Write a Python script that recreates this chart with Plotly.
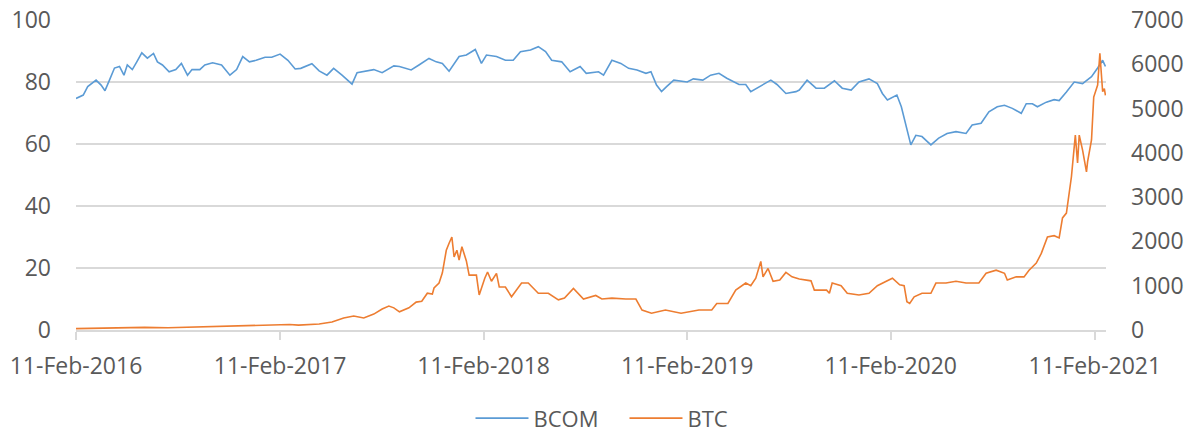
import plotly.graph_objects as go

bcom_dates = [
    "2016-02-11","2016-02-24","2016-03-03","2016-03-18","2016-03-27","2016-04-03","2016-04-11","2016-04-20",
    "2016-04-29","2016-05-07","2016-05-13","2016-05-22","2016-05-30","2016-06-08","2016-06-18","2016-06-29",
    "2016-07-06","2016-07-15","2016-07-27","2016-08-08","2016-08-18","2016-08-29","2016-09-06","2016-09-20",
    "2016-09-29","2016-10-13","2016-10-29","2016-11-13","2016-11-25","2016-12-06","2016-12-18","2016-12-30",
    "2017-01-15","2017-01-27","2017-02-11","2017-02-25","2017-03-10","2017-03-20","2017-04-09","2017-04-22",
    "2017-05-06","2017-05-18","2017-06-02","2017-06-20","2017-06-29","2017-07-15","2017-07-29","2017-08-13",
    "2017-09-03","2017-09-13","2017-10-04","2017-10-18","2017-11-05","2017-11-18","2017-11-29","2017-12-11",
    "2017-12-29","2018-01-11","2018-01-27","2018-02-07","2018-02-16","2018-03-06","2018-03-22","2018-04-05",
    "2018-04-18","2018-05-06","2018-05-20","2018-06-02","2018-06-13","2018-07-01","2018-07-16","2018-08-03",
    "2018-08-14","2018-09-05","2018-09-14","2018-09-29","2018-10-15","2018-10-29","2018-11-13","2018-11-29",
    "2018-12-08","2018-12-18","2018-12-27","2019-01-05","2019-01-18","2019-02-11","2019-02-22","2019-03-11",
    "2019-03-25","2019-04-09","2019-04-23","2019-05-15","2019-05-27","2019-06-05","2019-06-20","2019-07-11",
    "2019-07-22","2019-08-07","2019-08-25","2019-08-31","2019-09-14","2019-09-30","2019-10-15","2019-11-02",
    "2019-11-16","2019-12-02","2019-12-16","2020-01-03","2020-01-18","2020-01-27","2020-02-05","2020-02-22",
    "2020-03-01","2020-03-06","2020-03-18","2020-03-27","2020-04-07","2020-04-23","2020-05-07","2020-05-22",
    "2020-06-07","2020-06-25","2020-07-06","2020-07-22","2020-08-05","2020-08-20","2020-09-02","2020-09-16",
    "2020-10-02","2020-10-11","2020-10-22","2020-10-31","2020-11-16","2020-11-30","2020-12-09","2020-12-22",
    "2021-01-05","2021-01-20","2021-02-05","2021-02-16","2021-02-25","2021-03-02",
]
bcom_values = [
    74.7,75.8,78.5,80.6,79.0,77.2,80.6,84.5,
    85.0,82.2,85.5,84.0,86.5,89.4,87.7,89.2,
    86.5,85.5,83.3,84.0,86.0,82.2,84.0,84.0,
    85.5,86.2,85.5,82.2,84.0,88.2,86.5,87.0,
    88.0,88.0,89.0,87.0,84.2,84.4,85.9,83.6,
    82.2,84.4,82.2,79.3,83.0,83.5,84.0,83.0,
    85.2,85.0,83.9,85.5,87.6,86.5,86.0,83.5,
    88.2,88.7,90.5,86.0,88.7,88.2,87.0,87.0,
    89.8,90.3,91.4,89.8,87.0,86.5,83.3,85.0,
    82.8,83.3,82.2,87.0,86.0,84.4,83.9,82.8,
    83.3,79.0,76.9,78.5,80.6,80.0,81.0,80.6,
    82.2,82.8,81.2,79.2,79.2,76.9,78.5,80.6,
    79.2,76.3,76.9,77.4,80.6,78.0,78.0,80.4,
    78.0,77.4,80.0,81.0,79.5,76.3,74.2,75.8,
    72.0,68.3,59.7,62.8,62.4,59.7,61.9,63.4,
    64.0,63.4,66.1,66.7,70.4,72.0,72.5,71.5,
    69.9,73.0,73.0,72.0,73.5,74.3,74.0,76.8,
    80.0,79.5,81.7,84.5,87.0,85.0,
]

btc_dates = [
    "2016-02-11","2016-06-13","2016-07-25","2016-12-18","2016-12-31","2017-02-28","2017-03-16","2017-04-22",
    "2017-05-15","2017-06-05","2017-06-23","2017-07-11","2017-07-29","2017-08-13","2017-08-25","2017-09-03",
    "2017-09-13","2017-09-30","2017-10-13","2017-10-23","2017-11-02","2017-11-11","2017-11-14","2017-11-23",
    "2017-11-29","2017-12-06","2017-12-11","2017-12-16","2017-12-20","2017-12-25","2017-12-29","2018-01-03",
    "2018-01-11","2018-01-16","2018-01-29","2018-02-03","2018-02-13","2018-02-18","2018-02-25","2018-03-06",
    "2018-03-11","2018-03-22","2018-04-02","2018-04-20","2018-05-02","2018-05-20","2018-06-07","2018-06-25",
    "2018-07-06","2018-07-22","2018-08-09","2018-08-31","2018-09-11","2018-09-29","2018-10-24","2018-11-11",
    "2018-11-22","2018-12-09","2019-01-03","2019-01-31","2019-03-04","2019-03-27","2019-04-05","2019-04-25",
    "2019-05-09","2019-05-27","2019-06-05","2019-06-14","2019-06-23","2019-06-27","2019-07-06","2019-07-15",
    "2019-07-27","2019-08-07","2019-08-18","2019-08-31","2019-09-21","2019-09-27","2019-10-19","2019-10-24",
    "2019-10-29","2019-11-14","2019-11-25","2019-12-16","2020-01-03","2020-01-18","2020-02-03","2020-02-14",
    "2020-02-27","2020-03-06","2020-03-11","2020-03-16","2020-03-24","2020-04-07","2020-04-23","2020-05-02",
    "2020-05-20","2020-06-07","2020-06-25","2020-07-18","2020-07-31","2020-08-18","2020-09-02","2020-09-07",
    "2020-09-23","2020-10-07","2020-10-16","2020-10-29","2020-11-07","2020-11-18","2020-11-30","2020-12-09",
    "2020-12-15","2020-12-22","2020-12-31","2021-01-07","2021-01-11","2021-01-14","2021-01-20","2021-01-27",
    "2021-01-29","2021-02-05","2021-02-09","2021-02-16","2021-02-20","2021-02-25","2021-02-28","2021-03-02",
]
btc_values = [
    30,60,50,90,110,125,110,135,
    180,270,315,270,360,475,540,500,
    410,500,630,650,830,810,950,1060,
    1290,1800,1960,2100,1650,1800,1580,1880,
    1560,1240,1240,790,1170,1310,1100,1280,
    970,970,750,1060,1060,830,830,680,
    720,940,700,780,700,720,700,700,
    450,380,450,380,450,450,600,600,
    900,1060,1000,1170,1550,1200,1390,1100,
    1130,1300,1200,1150,1110,900,900,830,
    1060,1000,830,790,830,1000,1100,1170,
    1020,1000,640,600,750,830,830,1060,
    1060,1100,1060,1060,1280,1350,1280,1130,
    1200,1200,1350,1510,1730,2100,2130,2080,
    2530,2640,3460,4400,3770,4400,4060,3570,
    3800,4290,5260,5530,6250,5380,5450,5300,
]

tick_dates = ["2016-02-11","2017-02-11","2018-02-11","2019-02-11","2020-02-11","2021-02-11"]
tick_labels = ["11-Feb-2016","11-Feb-2017","11-Feb-2018","11-Feb-2019","11-Feb-2020","11-Feb-2021"]

FONT = "Open Sans"
GRAY = "#595959"
GRID = "#D9D9D9"
FS = 23

fig = go.Figure()
fig.add_trace(go.Scatter(x=bcom_dates, y=bcom_values, name="BCOM", mode="lines",
                         line=dict(color="#5B9BD5", width=1.6), yaxis="y"))
fig.add_trace(go.Scatter(x=btc_dates, y=btc_values, name="BTC", mode="lines",
                         line=dict(color="#ED7D31", width=1.6), yaxis="y2"))

fig.update_layout(
    width=1195, height=434,
    margin=dict(l=76, r=89, t=20, b=104, autoexpand=False),
    paper_bgcolor="white", plot_bgcolor="white",
    font=dict(family=FONT, size=FS, color=GRAY),
    showlegend=True,
    legend=dict(orientation="h", x=0.383, xanchor="left", y=-0.285, yanchor="middle",
                font=dict(family=FONT, size=22, color=GRAY),
                itemwidth=53, entrywidth=86, entrywidthmode="pixels"),
    xaxis=dict(type="date", range=["2016-02-11", "2021-03-03"],
               tickvals=tick_dates, ticktext=tick_labels,
               showgrid=False, zeroline=False, automargin=False,
               showline=True, linecolor=GRID, linewidth=2,
               ticks="outside", ticklen=8, tickcolor=GRID, tickwidth=2,
               ticklabelstandoff=6, ticklabeloverflow="allow",
               tickfont=dict(family=FONT, size=FS, color=GRAY)),
    yaxis=dict(range=[0, 100], tickvals=[0, 20, 40, 60, 80, 100],
               showgrid=True, gridcolor=GRID, gridwidth=2, zeroline=False,
               showline=False, ticks="", ticklabelstandoff=24, automargin=False,
               ticklabeloverflow="allow",
               tickfont=dict(family=FONT, size=FS, color=GRAY)),
    yaxis2=dict(range=[0, 7000], tickvals=[0, 1000, 2000, 3000, 4000, 5000, 6000, 7000],
                overlaying="y", side="right", showgrid=False, zeroline=False,
                showline=False, ticks="", ticklabelstandoff=24, automargin=False,
                ticklabeloverflow="allow",
                tickfont=dict(family=FONT, size=FS, color=GRAY)),
)

# remove the browser's default 8px page margin so the figure fills the window exactly
fig.write_html("out.html", config={"displayModeBar": False},
               post_script="document.body.style.margin='0';")
